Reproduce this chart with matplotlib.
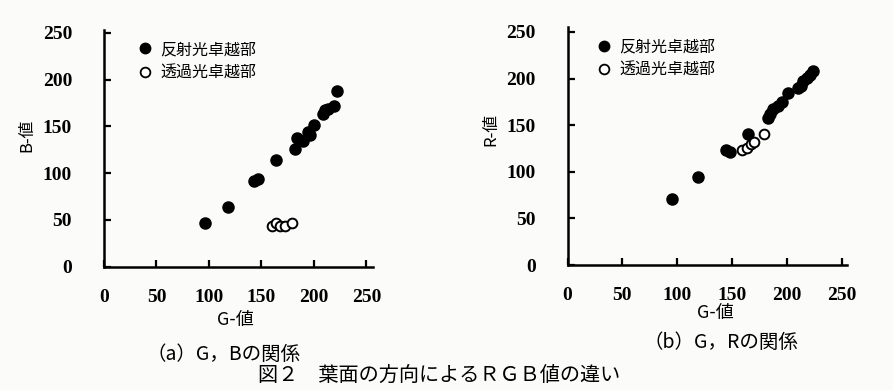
import matplotlib
matplotlib.use("Agg")
import matplotlib.pyplot as plt
from matplotlib.lines import Line2D

# ---- data ----
# (a) G vs B
a_refl_G = [96, 118, 143, 147, 164, 182, 183.5, 189.5, 194, 196, 200.5, 208.5, 210.5, 213, 219, 222.5]
a_refl_B = [46.5, 63.5, 92, 94, 114, 125.5, 138, 134.5, 144, 141, 151.5, 163, 167, 168.5, 172, 188]
a_trans_G = [160.5, 164, 168, 172, 179]
a_trans_B = [43.5, 47, 43.5, 44, 47]

# (b) G vs R
b_refl_G = [95, 119, 145, 148, 165, 183, 184.5, 187.5, 192, 195.5, 201, 210, 213, 214.5, 218.5, 221, 224]
b_refl_R = [71, 94, 123, 121, 141, 157.5, 162.5, 167, 170.5, 175, 184, 190, 192.5, 197.5, 201, 204, 208.5]
b_trans_G = [159.5, 163.5, 167.5, 170.5, 179.5]
b_trans_R = [123.5, 126, 129.5, 131.5, 141]

ticks = [0, 50, 100, 150, 200, 250]
legend_labels = ["反射光卓越部", "透過光卓越部"]
xlabel = "G-値"
ylabels = ["B-値", "R-値"]
captions = ["（a）G，Bの関係", "（b）G，Rの関係"]
title = "図２　葉面の方向によるＲＧＢ値の違い"

JP = ["Noto Sans CJK JP", "DejaVu Sans"]
NUM = ["Liberation Serif", "DejaVu Serif"]
BG = "#fbfbfa"

fig = plt.figure(figsize=(8.93, 3.90), dpi=100, facecolor=BG)

def setup(ax, xlim, ylim):
    ax.set_facecolor(BG)
    ax.set_xlim(*xlim)
    ax.set_ylim(*ylim)
    for s in ["top", "right"]:
        ax.spines[s].set_visible(False)
    for s in ["left", "bottom"]:
        ax.spines[s].set_linewidth(1.8)
        ax.spines[s].set_color("black")
    ax.set_xticks(ticks)
    ax.set_yticks(ticks)
    ax.tick_params(direction="in", length=5, width=1.6, labelsize=14)
    ax.tick_params(axis="x", pad=16)
    ax.tick_params(axis="y", pad=23)
    for lab in ax.get_xticklabels() + ax.get_yticklabels():
        lab.set_family(NUM)
        lab.set_fontweight("bold")

def scatter(ax, rg, rv, tg, tv):
    ax.plot(rg, rv, "o", ms=8, mfc="black", mec="black", mew=1.0, ls="none", clip_on=False)
    ax.plot(tg, tv, "o", ms=7, mfc="white", mec="black", mew=1.4, ls="none", clip_on=False)

def legend(ax, anchor):
    handles = [
        Line2D([], [], marker="o", ls="none", ms=7.5, mfc="black", mec="black"),
        Line2D([], [], marker="o", ls="none", ms=7, mfc="white", mec="black", mew=1.3),
    ]
    ax.legend(handles, legend_labels, loc="upper left", bbox_to_anchor=anchor,
              frameon=False, prop={"family": JP, "size": 11.5},
              handletextpad=0.45, labelspacing=0.4, handlelength=1.0, borderaxespad=0)

# (a)
ax1 = fig.add_axes([0.1165, 0.3162, 0.3008, 0.607])
setup(ax1, (0, 256), (0, 253))
scatter(ax1, a_refl_G, a_refl_B, a_trans_G, a_trans_B)
legend(ax1, (0.1, 0.98))

# (b)
ax2 = fig.add_axes([0.6355, 0.3205, 0.313, 0.6095])
setup(ax2, (0, 255), (0, 255))
scatter(ax2, b_refl_G, b_refl_R, b_trans_G, b_trans_R)
legend(ax2, (0.08, 0.98))

# axis labels
fig.text(27 / 893, 1 - 135 / 390, ylabels[0], rotation=90, ha="center", va="center",
         family=JP, fontsize=12)
fig.text(491 / 893, 1 - 130 / 390, ylabels[1], rotation=90, ha="center", va="center",
         family=JP, fontsize=12)
fig.text(235 / 893, 1 - 320 / 390, xlabel, ha="center", va="center", family=JP, fontsize=13)
fig.text(715 / 893, 1 - 313 / 390, xlabel, ha="center", va="center", family=JP, fontsize=13)

# captions
fig.text(224 / 893, 1 - 354 / 390, captions[0], ha="center", va="center", family=JP, fontsize=14)
fig.text(721 / 893, 1 - 342 / 390, captions[1], ha="center", va="center", family=JP, fontsize=14)
fig.text(439 / 893, 1 - 375 / 390, title, ha="center", va="center", family=JP, fontsize=14.5)

fig.savefig("out.png", dpi=100, facecolor=BG)
